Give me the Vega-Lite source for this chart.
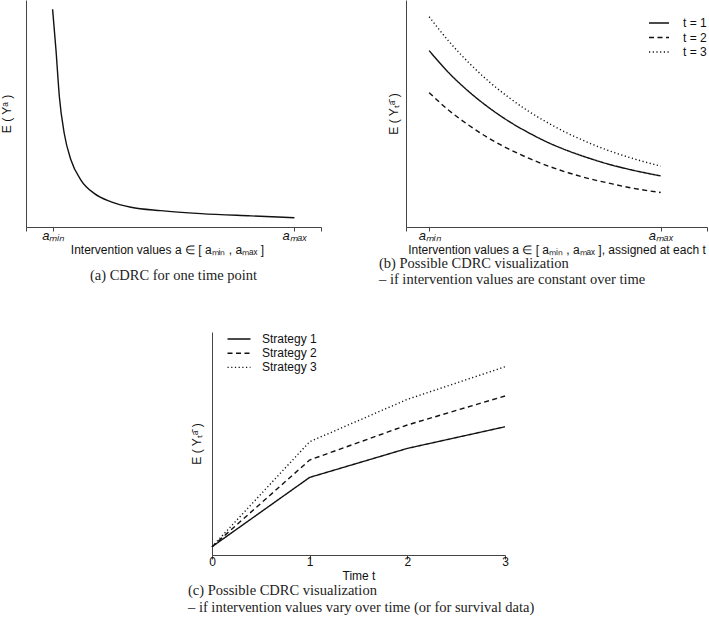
{
  "$schema": "https://vega.github.io/schema/vega-lite/v6.json",
  "padding": {"left": 0, "top": 0, "right": 0, "bottom": 0},
  "background": "white",
  "config": {
    "view": {"stroke": null},
    "font": "Liberation Sans",
    "axis": {"domainColor": "#444", "tickColor": "#444", "labelColor": "#111", "titleColor": "#111", "grid": false, "titleFontWeight": "normal", "titleFontSize": 12, "labelFontSize": 12, "domainWidth": 1, "titleFont": "Liberation Sans", "labelFont": "Liberation Sans"},
    "legend": {"labelFont": "Liberation Sans", "labelFontSize": 12, "labelColor": "#111"},
    "title": {"font": "Liberation Serif", "fontSize": 14.5, "fontWeight": "normal", "color": "#222"}
  },
  "datasets": {
    "one": [
      {"a": 0, "ey": 0.959}, {"a": 0.014, "ey": 0.78}, {"a": 0.028, "ey": 0.574}, {"a": 0.048, "ey": 0.413},
      {"a": 0.076, "ey": 0.295}, {"a": 0.117, "ey": 0.207}, {"a": 0.172, "ey": 0.148}, {"a": 0.242, "ey": 0.111},
      {"a": 0.324, "ey": 0.087}, {"a": 0.448, "ey": 0.072}, {"a": 0.614, "ey": 0.059}, {"a": 0.82, "ey": 0.049},
      {"a": 1.0, "ey": 0.041}
    ],
    "const": [
      {"t": "t = 1", "a": 0, "ey": 0.777}, {"t": "t = 1", "a": 0.086, "ey": 0.678}, {"t": "t = 1", "a": 0.173, "ey": 0.595},
      {"t": "t = 1", "a": 0.259, "ey": 0.525}, {"t": "t = 1", "a": 0.345, "ey": 0.465}, {"t": "t = 1", "a": 0.432, "ey": 0.414},
      {"t": "t = 1", "a": 0.518, "ey": 0.370}, {"t": "t = 1", "a": 0.604, "ey": 0.334}, {"t": "t = 1", "a": 0.691, "ey": 0.303},
      {"t": "t = 1", "a": 0.777, "ey": 0.276}, {"t": "t = 1", "a": 0.863, "ey": 0.254}, {"t": "t = 1", "a": 1.0, "ey": 0.225},
      {"t": "t = 2", "a": 0, "ey": 0.592}, {"t": "t = 2", "a": 0.086, "ey": 0.513}, {"t": "t = 2", "a": 0.173, "ey": 0.447},
      {"t": "t = 2", "a": 0.259, "ey": 0.390}, {"t": "t = 2", "a": 0.345, "ey": 0.343}, {"t": "t = 2", "a": 0.432, "ey": 0.302},
      {"t": "t = 2", "a": 0.518, "ey": 0.267}, {"t": "t = 2", "a": 0.604, "ey": 0.238}, {"t": "t = 2", "a": 0.691, "ey": 0.213},
      {"t": "t = 2", "a": 0.777, "ey": 0.193}, {"t": "t = 2", "a": 0.863, "ey": 0.174}, {"t": "t = 2", "a": 1.0, "ey": 0.152},
      {"t": "t = 3", "a": 0, "ey": 0.926}, {"t": "t = 3", "a": 0.086, "ey": 0.817}, {"t": "t = 3", "a": 0.173, "ey": 0.722},
      {"t": "t = 3", "a": 0.259, "ey": 0.640}, {"t": "t = 3", "a": 0.345, "ey": 0.570}, {"t": "t = 3", "a": 0.432, "ey": 0.508},
      {"t": "t = 3", "a": 0.518, "ey": 0.456}, {"t": "t = 3", "a": 0.604, "ey": 0.410}, {"t": "t = 3", "a": 0.691, "ey": 0.370},
      {"t": "t = 3", "a": 0.777, "ey": 0.336}, {"t": "t = 3", "a": 0.863, "ey": 0.307}, {"t": "t = 3", "a": 1.0, "ey": 0.268}
    ],
    "vary": [
      {"s": "Strategy 1", "time": 0, "ey": 0.37}, {"s": "Strategy 1", "time": 1, "ey": 3.48}, {"s": "Strategy 1", "time": 2, "ey": 4.78}, {"s": "Strategy 1", "time": 3, "ey": 5.75},
      {"s": "Strategy 2", "time": 0, "ey": 0.37}, {"s": "Strategy 2", "time": 1, "ey": 4.26}, {"s": "Strategy 2", "time": 2, "ey": 5.83}, {"s": "Strategy 2", "time": 3, "ey": 7.13},
      {"s": "Strategy 3", "time": 0, "ey": 0.37}, {"s": "Strategy 3", "time": 1, "ey": 5.08}, {"s": "Strategy 3", "time": 2, "ey": 6.98}, {"s": "Strategy 3", "time": 3, "ey": 8.44}
    ]
  },
  "spacing": 45,
  "resolve": {"scale": {"strokeDash": "independent"}, "legend": {"strokeDash": "independent"}},
  "vconcat": [
    {
      "bounds": "flush",
      "spacing": 85,
      "resolve": {"scale": {"strokeDash": "independent"}, "legend": {"strokeDash": "independent"}},
      "hconcat": [
        {
          "width": 295, "height": 227,
          "data": {"name": "one"},
          "mark": {"type": "line", "interpolate": "monotone", "color": "#111", "strokeWidth": 1.4},
          "encoding": {
            "x": {"field": "a", "type": "quantitative", "scale": {"domain": [-0.11, 1.11], "nice": false, "zero": false},
              "axis": {"values": [-0.11, 0, 1, 1.11], "labelExpr": "datum.value == 0 ? 'aₘᵢₙ' : (datum.value == 1 ? 'aₘₐₓ' : '')", "labelFontStyle": "italic", "labelFontSize": 13, "title": "Intervention values a ∈ [ aₘᵢₙ , aₘₐₓ ]", "titleX": 141, "tickSize": 4, "labelPadding": -2, "titlePadding": 2, "labelFlush": false, "labelOverlap": false}},
            "y": {"field": "ey", "type": "quantitative", "scale": {"domain": [0, 1], "nice": false},
              "axis": {"ticks": false, "labels": false, "title": "E ( Yᵃ )", "titlePadding": 13}}
          },
          "title": {"text": "(a) CDRC for one time point", "orient": "bottom", "anchor": "middle", "frame": "group", "offset": 14}
        },
        {
          "width": 301, "height": 227,
          "data": {"name": "const"},
          "mark": {"type": "line", "interpolate": "monotone", "color": "#111", "strokeWidth": 1.4},
          "encoding": {
            "x": {"field": "a", "type": "quantitative", "scale": {"domain": [-0.1, 1.2], "nice": false, "zero": false},
              "axis": {"values": [-0.1, 0, 1, 1.2], "labelExpr": "datum.value == 0 ? 'aₘᵢₙ' : (datum.value == 1 ? 'aₘₐₓ' : '')", "labelFontStyle": "italic", "labelFontSize": 13, "title": "Intervention values a ∈ [ aₘᵢₙ , aₘₐₓ ], assigned at each t", "tickSize": 4, "labelPadding": -2, "titlePadding": 2, "labelFlush": false, "labelOverlap": false}},
            "y": {"field": "ey", "type": "quantitative", "scale": {"domain": [0, 1], "nice": false},
              "axis": {"ticks": false, "labels": false, "title": "E ( Yₜᵃ̄ )", "titlePadding": 6}},
            "strokeDash": {"field": "t", "type": "nominal",
              "scale": {"domain": ["t = 1", "t = 2", "t = 3"], "range": [[1, 0], [5, 3.5], [1.2, 2.5]]},
              "legend": {"title": null, "orient": "none", "legendX": 247, "legendY": 17, "symbolType": "M-2,0H2", "symbolSize": 100, "symbolStrokeWidth": 1.4, "symbolStrokeColor": "#111", "symbolFillColor": "transparent", "labelOffset": 18, "rowPadding": 2.5, "padding": 0}}
          },
          "title": {"text": ["(b) Possible CDRC visualization", "– if intervention values are constant over time"], "orient": "bottom", "anchor": "start", "frame": "group", "dx": -27, "lineHeight": 16, "offset": 2}
        }
      ]
    },
    {
      "bounds": "flush",
      "spacing": 185,
      "resolve": {"scale": {"strokeDash": "independent"}, "legend": {"strokeDash": "independent"}},
      "hconcat": [
        {
          "width": 1, "height": 1,
          "data": {"values": []},
          "mark": {"type": "point", "opacity": 0}
        },
        {
          "width": 293, "height": 223,
          "data": {"name": "vary"},
          "mark": {"type": "line", "color": "#111", "strokeWidth": 1.4},
          "encoding": {
            "x": {"field": "time", "type": "quantitative", "scale": {"domain": [0, 3], "nice": false},
              "axis": {"values": [0, 1, 2, 3], "format": "d", "title": "Time t", "tickSize": 4, "labelPadding": -3, "titlePadding": 3, "labelFlush": false, "labelOverlap": false}},
            "y": {"field": "ey", "type": "quantitative", "scale": {"domain": [0, 10], "nice": false},
              "axis": {"ticks": false, "labels": false, "title": "E ( Yₜᵃ̄ )", "titlePadding": 9}},
            "strokeDash": {"field": "s", "type": "nominal",
              "scale": {"domain": ["Strategy 1", "Strategy 2", "Strategy 3"], "range": [[1, 0], [5, 3.5], [1.2, 2.5]]},
              "legend": {"title": null, "orient": "none", "legendX": 21, "legendY": 1, "symbolType": "M-2.3,0H2.3", "symbolSize": 100, "symbolStrokeWidth": 1.4, "symbolStrokeColor": "#111", "symbolFillColor": "transparent", "labelOffset": 17, "rowPadding": 2.2, "padding": 0}}
          },
          "title": {"text": ["(c) Possible CDRC visualization", "– if intervention values vary over time (or for survival data)"], "orient": "bottom", "anchor": "start", "frame": "group", "dx": -24, "lineHeight": 17, "offset": 3}
        }
      ]
    }
  ]
}
